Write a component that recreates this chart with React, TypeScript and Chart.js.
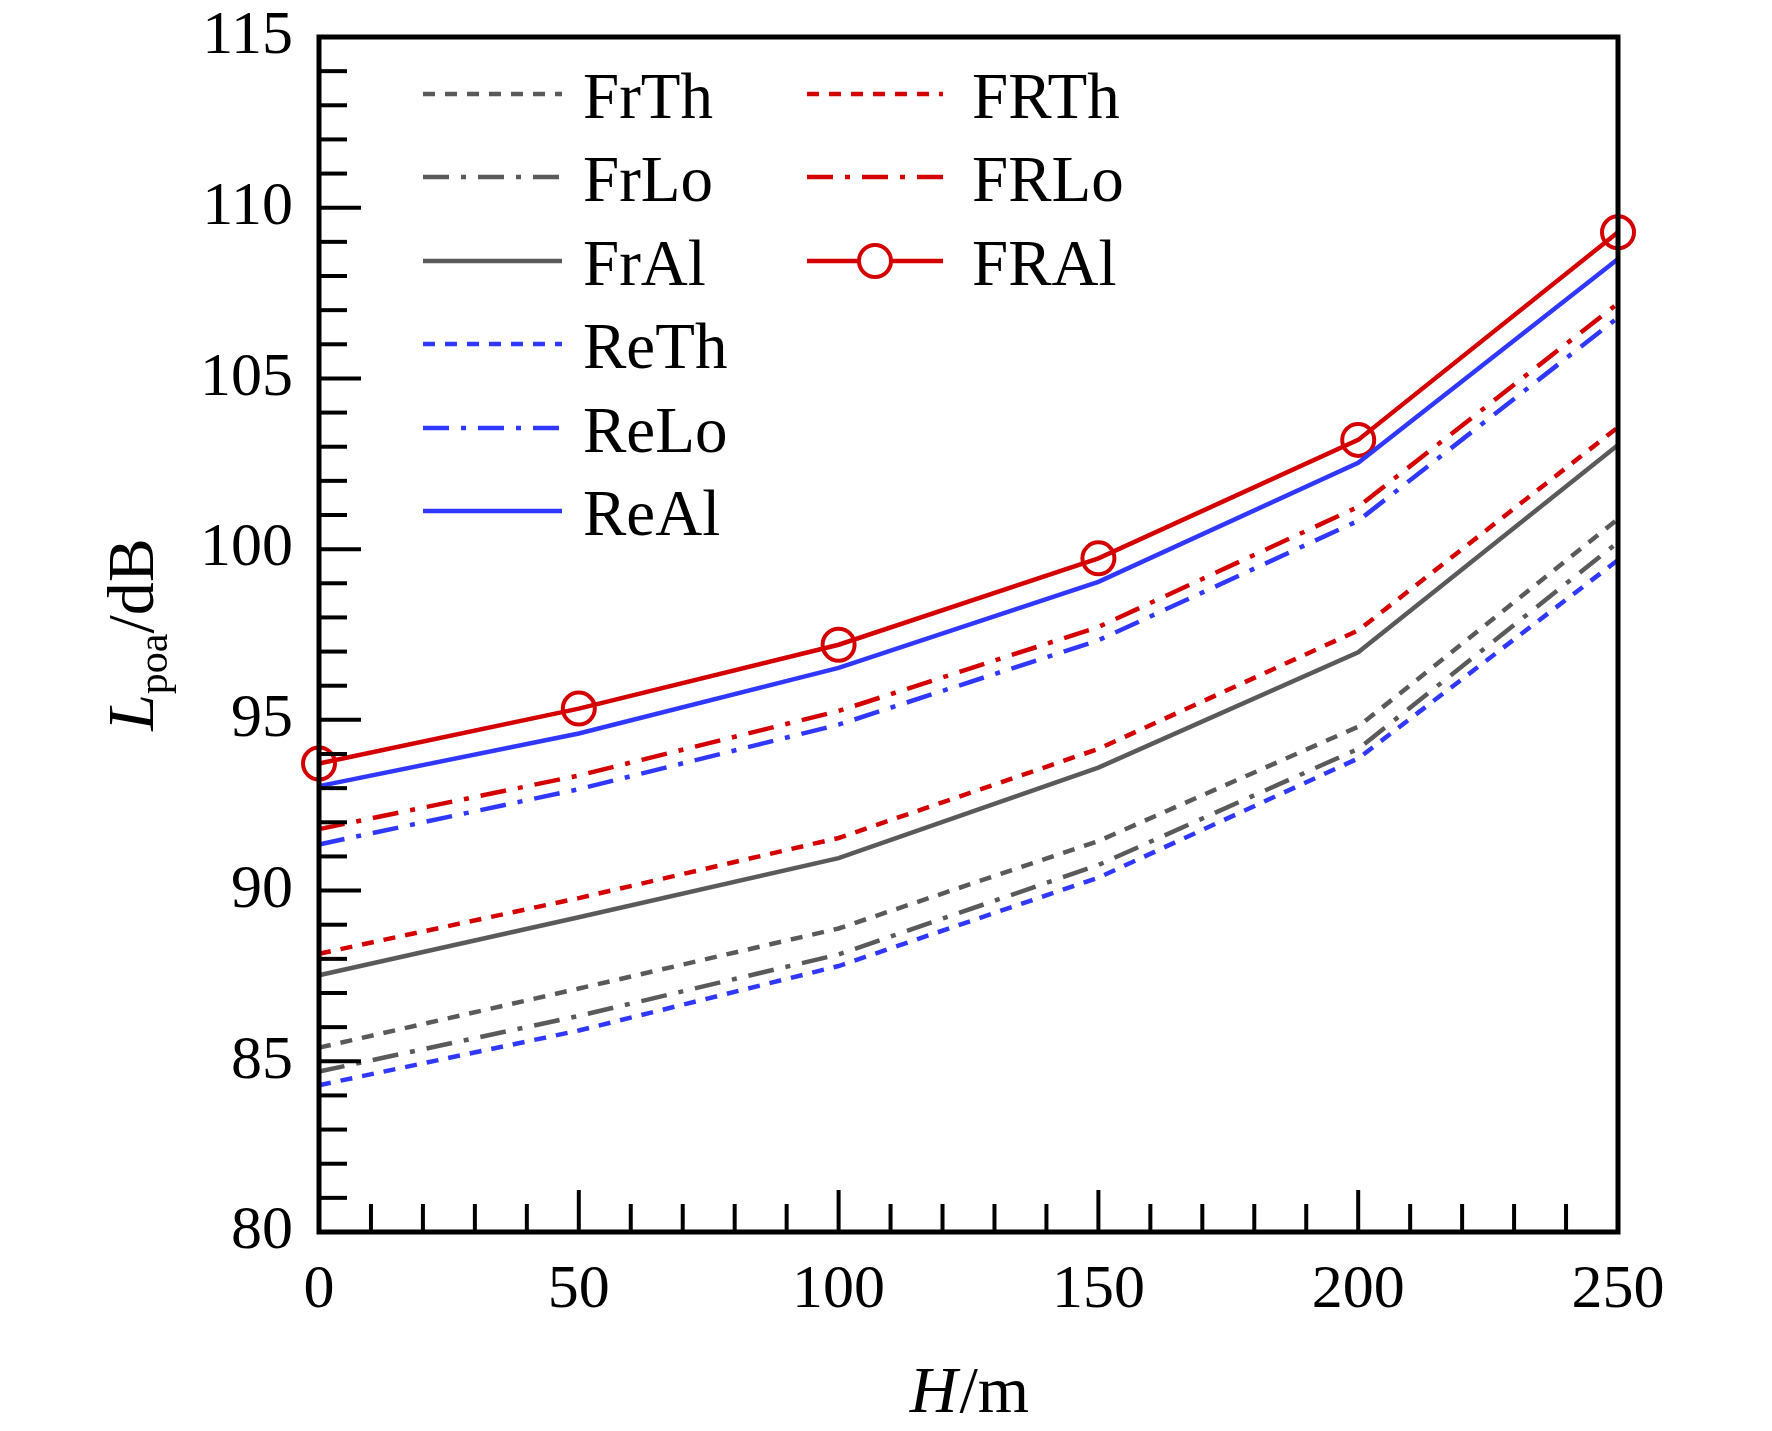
import { useEffect, useRef } from "react";
import { Chart, registerables, Plugin } from "chart.js";

Chart.register(...registerables);

// heights H (m)
const heights = [0, 50, 100, 150, 200, 250];

// L_poa (dB) for each case
const frTh = [85.4, 87.13, 88.89, 91.45, 94.8, 100.88];
const frLo = [84.7, 86.33, 88.13, 90.75, 94.15, 100.2];
const frAl = [87.52, 89.22, 90.95, 93.6, 96.98, 103.05];
const reTh = [84.3, 85.9, 87.79, 90.38, 93.87, 99.68];
const reLo = [91.35, 92.97, 94.86, 97.33, 100.83, 106.78];
const reAl = [93.06, 94.6, 96.52, 99.04, 102.53, 108.5];
const fRTh = [88.15, 89.78, 91.54, 94.15, 97.62, 103.57];
const fRLo = [91.8, 93.37, 95.26, 97.72, 101.24, 107.2];
const fRAl = [93.72, 95.33, 97.2, 99.73, 103.2, 109.28];

const GRAY = "#5a5a5a";
const RED = "#d40000";
const BLUE = "#3038ff";
const DOT = [12, 10];
const DASHDOT = [26, 12, 5, 12];
const SERIF = "'Liberation Serif', 'Times New Roman', serif";

const W = 1772;
const H = 1431;

const toPoints = (ys: number[]) => ys.map((y, i) => ({ x: heights[i], y }));

const series = [
  { label: "FrTh", data: frTh, color: GRAY, dash: DOT, marker: false },
  { label: "FrLo", data: frLo, color: GRAY, dash: DASHDOT, marker: false },
  { label: "FrAl", data: frAl, color: GRAY, dash: [], marker: false },
  { label: "ReTh", data: reTh, color: BLUE, dash: DOT, marker: false },
  { label: "ReLo", data: reLo, color: BLUE, dash: DASHDOT, marker: false },
  { label: "ReAl", data: reAl, color: BLUE, dash: [], marker: false },
  { label: "FRTh", data: fRTh, color: RED, dash: DOT, marker: false },
  { label: "FRLo", data: fRLo, color: RED, dash: DASHDOT, marker: false },
  { label: "FRAl", data: fRAl, color: RED, dash: [], marker: true },
];

// frame, inward ticks, axis titles and the two-column legend
const decorations: Plugin<"line"> = {
  id: "decorations",
  afterDraw(chart) {
    const { ctx, chartArea: a } = chart;
    const xs = chart.scales.x;
    const ys = chart.scales.y;
    ctx.save();
    ctx.strokeStyle = "#000";
    ctx.setLineDash([]);

    // minor / major ticks
    ctx.lineWidth = 4;
    for (let v = 80; v <= 115; v += 1) {
      const y = ys.getPixelForValue(v);
      const len = v % 5 === 0 ? 42 : 28;
      ctx.beginPath();
      ctx.moveTo(a.left, y);
      ctx.lineTo(a.left + len, y);
      ctx.stroke();
    }
    for (let v = 0; v <= 250; v += 10) {
      const x = xs.getPixelForValue(v);
      const len = v % 50 === 0 ? 42 : 28;
      ctx.beginPath();
      ctx.moveTo(x, a.bottom);
      ctx.lineTo(x, a.bottom - len);
      ctx.stroke();
    }

    ctx.lineWidth = 5;
    ctx.strokeRect(a.left, a.top, a.right - a.left, a.bottom - a.top);

    // x title: H/m
    ctx.fillStyle = "#000";
    ctx.textBaseline = "alphabetic";
    ctx.textAlign = "left";
    const it = `italic 66px ${SERIF}`;
    const rg = `66px ${SERIF}`;
    const sub = `42px ${SERIF}`;
    ctx.font = it;
    const wH = ctx.measureText("H").width;
    ctx.font = rg;
    const wM = ctx.measureText("/m").width;
    const cx = (a.left + a.right) / 2;
    let x0 = cx - (wH + wM) / 2;
    ctx.font = it;
    ctx.fillText("H", x0, 1412);
    ctx.font = rg;
    ctx.fillText("/m", x0 + wH + 2, 1412);

    // y title: L_poa/dB
    ctx.font = it;
    const wL = ctx.measureText("L").width;
    ctx.font = sub;
    const wP = ctx.measureText("poa").width;
    ctx.font = rg;
    const wD = ctx.measureText("/dB").width;
    const tot = wL + wP + wD;
    ctx.translate(153, (a.top + a.bottom) / 2);
    ctx.rotate(-Math.PI / 2);
    x0 = -tot / 2;
    ctx.font = it;
    ctx.fillText("L", x0, 0);
    ctx.font = sub;
    ctx.fillText("poa", x0 + wL, 14);
    ctx.font = rg;
    ctx.fillText("/dB", x0 + wL + wP, 0);
    ctx.setTransform(1, 0, 0, 1, 0, 0);

    // legend
    const rows = [94, 177, 261, 344, 428, 511];
    const cols = [
      { x1: 423, x2: 562, tx: 583 },
      { x1: 807, x2: 943, tx: 972 },
    ];
    ctx.font = `65px ${SERIF}`;
    series.forEach((s, i) => {
      const col = i < 6 ? cols[0] : cols[1];
      const y = rows[i < 6 ? i : i - 6];
      ctx.strokeStyle = s.color;
      ctx.lineWidth = 4.5;
      ctx.setLineDash(s.dash);
      ctx.beginPath();
      ctx.moveTo(col.x1, y);
      ctx.lineTo(col.x2, y);
      ctx.stroke();
      ctx.setLineDash([]);
      if (s.marker) {
        ctx.lineWidth = 4;
        ctx.beginPath();
        ctx.arc((col.x1 + col.x2) / 2, y, 16, 0, Math.PI * 2);
        ctx.fillStyle = "#fff";
        ctx.fill();
        ctx.stroke();
      }
      ctx.fillStyle = "#000";
      ctx.fillText(s.label, col.tx, y + 24);
    });
    ctx.restore();
  },
};

export default function App() {
  const canvasRef = useRef<HTMLCanvasElement>(null);

  useEffect(() => {
    if (!canvasRef.current) return;
    const ctx = canvasRef.current.getContext("2d");
    if (!ctx) return;

    const chart = new Chart(ctx, {
      type: "line",
      data: {
        datasets: series.map((s) => ({
          label: s.label,
          data: toPoints(s.data),
          borderColor: s.color,
          backgroundColor: s.color,
          borderWidth: 4.5,
          borderDash: s.dash,
          tension: 0,
          fill: false,
          clip: false,
          pointRadius: s.marker ? 16 : 0,
          pointBorderWidth: 4,
          pointBorderColor: s.color,
          pointBackgroundColor: "rgba(0,0,0,0)",
        })),
      },
      plugins: [decorations],
      options: {
        responsive: false,
        devicePixelRatio: 1,
        animation: false,
        layout: { padding: { left: 0, top: 37, right: 154, bottom: 0 } },
        plugins: {
          legend: { display: false },
          tooltip: { enabled: false },
        },
        scales: {
          x: {
            type: "linear",
            min: 0,
            max: 250,
            grid: { display: false, drawTicks: false },
            border: { display: false },
            ticks: {
              stepSize: 50,
              color: "#000",
              padding: 28,
              font: { family: SERIF, size: 62, lineHeight: 1 },
            },
            afterFit: (scale) => {
              scale.height = H - 1232;
              scale.paddingLeft = 0;
              scale.paddingRight = 0;
            },
          },
          y: {
            min: 80,
            max: 115,
            grid: { display: false, drawTicks: false },
            border: { display: false },
            ticks: {
              stepSize: 5,
              color: "#000",
              padding: 26,
              font: { family: SERIF, size: 62, lineHeight: 1 },
            },
            afterFit: (scale) => {
              scale.width = 319;
              scale.paddingTop = 0;
              scale.paddingBottom = 0;
            },
          },
        },
      },
    });

    return () => chart.destroy();
  }, []);

  return (
    <div
      style={{
        position: "fixed",
        left: 0,
        top: 0,
        width: W,
        height: H,
        background: "#fff",
      }}
    >
      <canvas ref={canvasRef} width={W} height={H} />
    </div>
  );
}
